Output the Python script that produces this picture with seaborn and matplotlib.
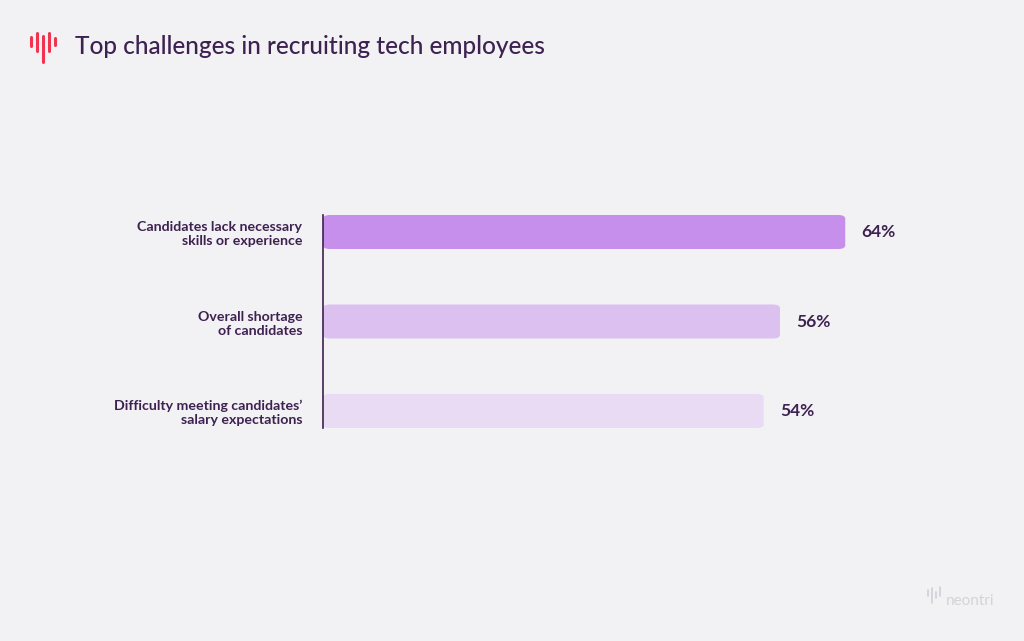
import matplotlib
matplotlib.use("Agg")
import matplotlib.pyplot as plt
import seaborn as sns
import pandas as pd
from matplotlib.patches import FancyBboxPatch
from matplotlib.lines import Line2D

categories = ["Candidates lack necessary\nskills or experience",
              "Overall shortage\nof candidates",
              "Difficulty meeting candidates’\nsalary expectations"]
values = [64, 56, 54]
labels = ["64%", "56%", "54%"]
colors = ["#c78fec", "#dcc0f0", "#e8dbf3"]

BG = "#f2f1f4"
TXT = "#3d2150"

sns.set_theme(style="white")
plt.rcParams['font.family'] = ['Lato', 'DejaVu Sans']

W, H = 1024, 641
fig = plt.figure(figsize=(W/100, H/100), dpi=100, facecolor=BG)
ax = fig.add_axes([323/W, 1-428/H, (1000-323)/W, 213/H])
ax.set_facecolor(BG)

df = pd.DataFrame({"cat": categories, "val": values})
sns.barplot(data=df, y="cat", x="val", hue="cat", palette=colors, legend=False,
            orient="h", width=0.38, ax=ax)
ax.set_xlim(0, (1000-323)/8.16)
ax.set_ylim(2.19, -0.19)

for p, c, lab in zip(list(ax.patches), colors, labels):
    x, y, w, h = p.get_x(), p.get_y(), p.get_width(), p.get_height()
    p.set_visible(False)
    fb = FancyBboxPatch((x, y), w, h, boxstyle="round,pad=0,rounding_size=0.9",
                        mutation_aspect=0.045, fc=c, ec="none")
    ax.add_patch(fb)
    ax.text(w + 2.0, y + h/2, lab, va="center", ha="left", fontsize=12.5,
            fontweight="bold", color=TXT)

for s in ["top", "right", "bottom"]:
    ax.spines[s].set_visible(False)
ax.spines["left"].set_color(TXT)
ax.spines["left"].set_linewidth(1.2)
ax.set_xticks([])
ax.set_xlabel("")
ax.set_ylabel("")
ax.tick_params(axis="y", length=0, pad=22)
for t in ax.get_yticklabels():
    t.set_fontsize(10.2)
    t.set_color(TXT)
    t.set_fontweight("bold")
    t.set_ha("right")
    t.set_multialignment("right")
ax.tick_params(axis="y", pad=15)

fig.text(75/W, 1-46/H, "Top challenges in recruiting tech employees", fontsize=17.6,
         color=TXT, va="center", ha="left", fontweight="medium")

# logo
red = "#f2334f"
for xx, y0, y1 in [(31, 37, 46), (37, 33, 51), (43, 36, 62), (49, 33, 51), (55, 38, 45)]:
    fig.add_artist(Line2D([xx/W, xx/W], [1-y0/H, 1-y1/H], color=red, lw=2.2,
                          solid_capstyle="round"))
# watermark
for xx, y0, y1 in [(928, 590, 596), (932, 588, 603), (936, 592, 598), (940, 587, 596)]:
    fig.add_artist(Line2D([xx/W, xx/W], [1-y0/H, 1-y1/H], color="#d5d3da", lw=1.3))
fig.text(946/W, 1-601/H, "neontri", fontsize=11, color="#d5d3da", va="center", ha="left")

fig.savefig("out.png", dpi=100, facecolor=BG)
